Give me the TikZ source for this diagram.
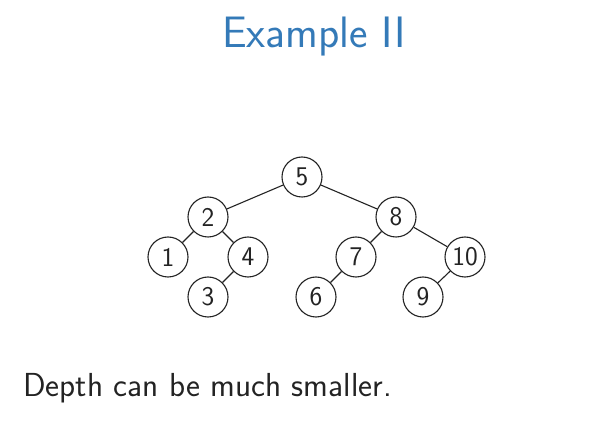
\documentclass[tikz,border=0pt]{standalone}
\usepackage{fontspec}
\usepackage{tikz}
\definecolor{titleblue}{RGB}{52,122,184}
\definecolor{ink}{RGB}{35,35,35}
\tikzset{
  tnode/.style={circle,draw=ink,line width=1.1pt,minimum size=40pt,inner sep=0pt,text=ink,font=\sffamily\fontsize{27}{30}\selectfont},
  tedge/.style={draw=ink,line width=1.1pt}
}
\begin{document}
\begin{tikzpicture}[x=1pt,y=-1pt]
\useasboundingbox (0,0) rectangle (589,435);
\node[anchor=base,text=titleblue,font=\sffamily\fontsize{44}{48}\selectfont] (title) at (314,48) {Example II};
\node (n5) [tnode] at (302,177) {5};
\node (n2) [tnode] at (208,217) {2};
\node (n8) [tnode] at (396,217) {8};
\node (n1) [tnode] at (168,257) {1};
\node (n4) [tnode] at (248,257) {4};
\node (n7) [tnode] at (356,257) {7};
\node (n10) [tnode] at (465,257) {10};
\node (n3) [tnode] at (208,297) {3};
\node (n6) [tnode] at (316,297) {6};
\node (n9) [tnode] at (423,297) {9};
\draw[tedge] (n5) -- (n2);
\draw[tedge] (n5) -- (n8);
\draw[tedge] (n2) -- (n1);
\draw[tedge] (n2) -- (n4);
\draw[tedge] (n4) -- (n3);
\draw[tedge] (n8) -- (n7);
\draw[tedge] (n8) -- (n10);
\draw[tedge] (n7) -- (n6);
\draw[tedge] (n10) -- (n9);
\node[anchor=base west,inner sep=0pt,text=ink,font=\sffamily\fontsize{33.3}{36}\selectfont] (txt) at (23,397) {Depth can be much smaller.};
\end{tikzpicture}
\end{document}
